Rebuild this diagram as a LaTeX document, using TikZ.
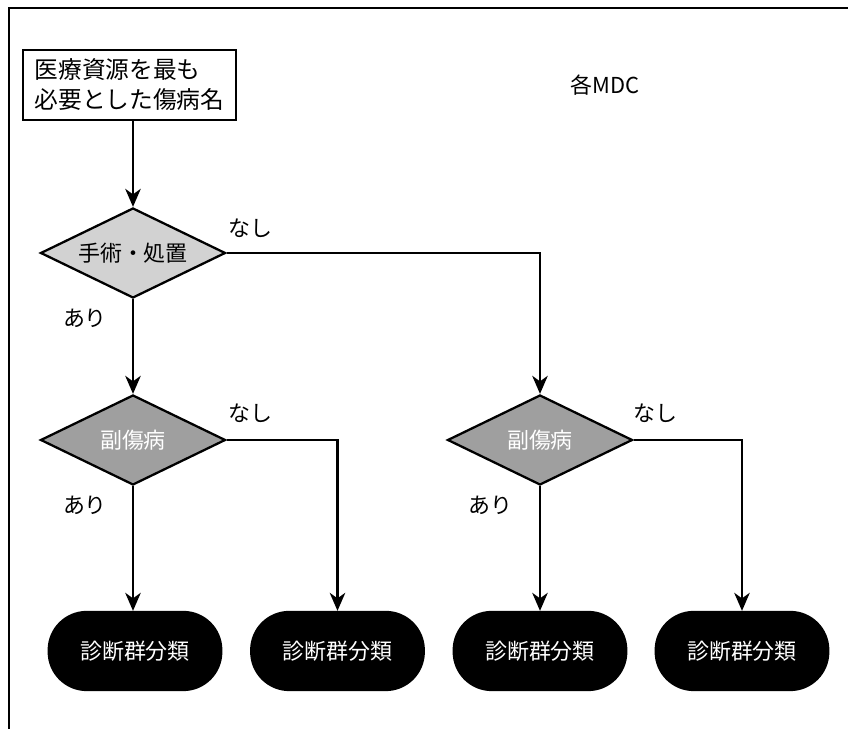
\documentclass[tikz,border=0pt]{standalone}
\usepackage{fontspec}
\setmainfont{Noto Sans CJK JP}
\usetikzlibrary{arrows.meta,shapes.geometric}

\begin{document}
\begin{tikzpicture}[>={Stealth[length=3.6mm,width=3.1mm,inset=1.1mm]},line width=1.3pt,
  font=\fontsize{12.5}{14}\selectfont,
  start/.style={draw,line width=1.5pt,minimum width=4.26cm,minimum height=1.4cm,align=left,inner sep=2pt,font=\fontsize{13.5}{17}\selectfont},
  cond/.style={diamond,draw,aspect=2.05,minimum width=3.7cm,minimum height=1.8cm,inner sep=0pt},
  result/.style={draw,fill=black,text=white,rounded corners=0.76cm,minimum width=3.45cm,minimum height=1.56cm}]
\useasboundingbox (0,0) rectangle (16.96,14.58);
\draw (0.18,0) -- (0.18,14.42) -- (16.96,14.42);
\node[start] (disease) at (2.59,12.88) {医療資源を最も\\必要とした傷病名};
\node (mdc) at (12.1,12.88) {各MDC};
\node[cond,fill=gray!35] (surg) at (2.66,9.52) {手術・処置};
\node[cond,fill=gray!75,text=white] (subL) at (2.66,5.78) {副傷病};
\node[cond,fill=gray!75,text=white] (subR) at (10.8,5.78) {副傷病};
\node[result] (g1) at (2.7,1.56) {診断群分類};
\node[result] (g2) at (6.75,1.56) {診断群分類};
\node[result] (g3) at (10.8,1.56) {診断群分類};
\node[result] (g4) at (14.84,1.56) {診断群分類};
\draw[->] (disease.south -| surg.north) -- (surg.north);
\draw[->] (surg.south) -- (subL.north);
\draw[->] (surg.east) -| (subR.north);
\draw[->] (subL.south) -- (subL.south |- g1.north);
\draw[->] (subL.east) -| (g2.north);
\draw[->] (subR.south) -- (g3.north);
\draw[->] (subR.east) -| (g4.north);
% labels
\node (n1) at (5.0,10.02) {なし};
\node (a1) at (1.7,8.22) {あり};
\node (n2) at (5.0,6.32) {なし};
\node (a2) at (1.7,4.48) {あり};
\node (n3) at (13.1,6.32) {なし};
\node (a3) at (9.8,4.48) {あり};
\end{tikzpicture}
\end{document}
